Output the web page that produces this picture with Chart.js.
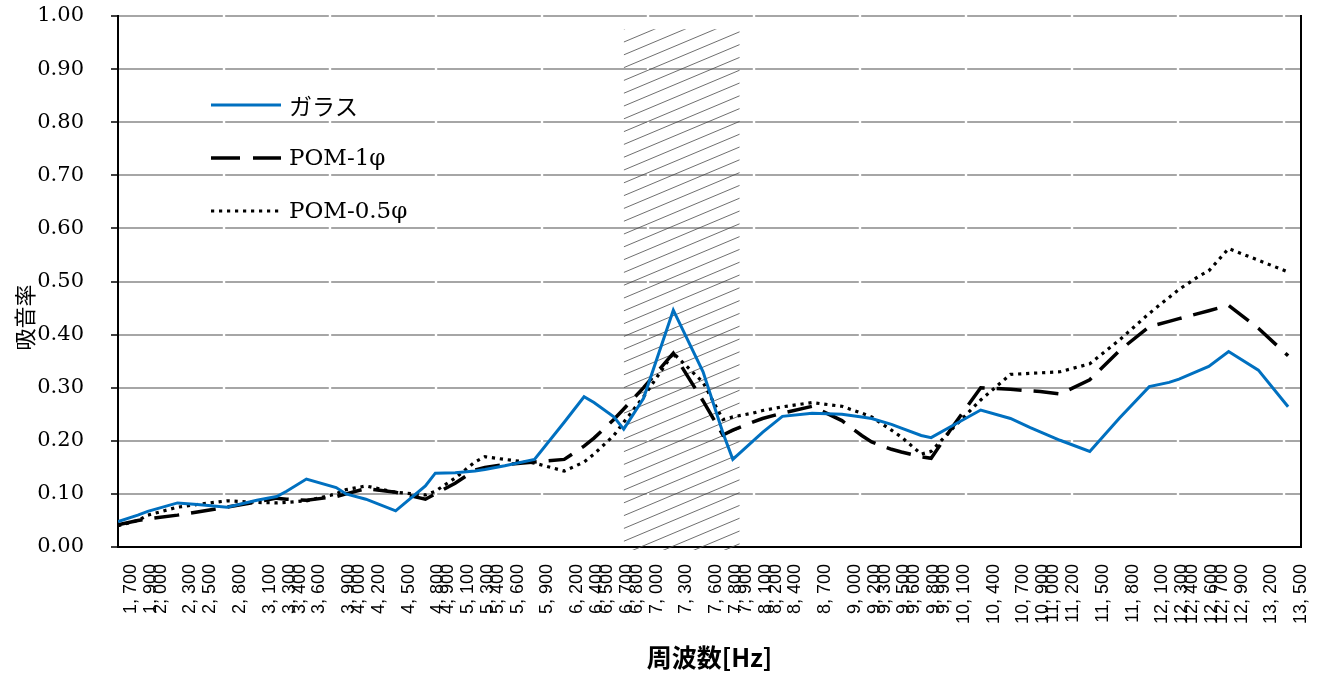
<!DOCTYPE html>
<html lang="ja">
<head>
<meta charset="utf-8">
<title>吸音率</title>
<script src="https://cdn.jsdelivr.net/npm/chart.js@4.4.1/dist/chart.umd.min.js"></script>
<style>
  html, body { margin: 0; padding: 0; background: #fff; }
  #chartCanvas { display: block; }
</style>
</head>
<body>
<canvas id="chartCanvas" width="1329" height="675"></canvas>
<script>
// 周波数 [Hz]
const freqs = [1700, 1900, 2000, 2300, 2500, 2800, 3100, 3300, 3400, 3600, 3900, 4000, 4200, 4500,
    4800, 4900, 5100, 5300, 5400, 5600, 5900, 6200, 6400, 6500, 6700, 6800, 7000, 7300, 7600,
    7800, 7900, 8100, 8200, 8400, 8700, 9000, 9200, 9300, 9500, 9600, 9800, 9900, 10100, 10400,
    10700, 10900, 11000, 11200, 11500, 11800, 12100, 12300, 12400, 12600, 12700, 12900, 13200, 13500];

// 吸音率
const glass = [0.048, 0.060, 0.067, 0.083, 0.080, 0.075, 0.088, 0.095, 0.105, 0.128, 0.112, 0.100, 0.090, 0.068,
    0.115, 0.139, 0.140, 0.143, 0.146, 0.153, 0.165, 0.235, 0.283, 0.272, 0.245, 0.222, 0.280, 0.446, 0.330,
    0.215, 0.165, 0.199, 0.216, 0.246, 0.252, 0.250, 0.245, 0.242, 0.231, 0.224, 0.210, 0.206, 0.227, 0.258,
    0.242, 0.225, 0.217, 0.201, 0.180, 0.243, 0.302, 0.310, 0.316, 0.332, 0.340, 0.368, 0.333, 0.264];
const pom1 = [0.042, 0.050, 0.053, 0.060, 0.066, 0.075, 0.085, 0.092, 0.090, 0.088, 0.095, 0.100, 0.110, 0.103,
    0.090, 0.100, 0.120, 0.145, 0.150, 0.155, 0.160, 0.165, 0.190, 0.205, 0.240, 0.260, 0.300, 0.365, 0.275,
    0.211, 0.220, 0.235, 0.242, 0.252, 0.265, 0.238, 0.210, 0.198, 0.184, 0.179, 0.170, 0.167, 0.222, 0.300,
    0.297, 0.294, 0.293, 0.288, 0.315, 0.370, 0.415, 0.425, 0.430, 0.440, 0.445, 0.455, 0.412, 0.360];
const pom05 = [0.040, 0.050, 0.060, 0.075, 0.080, 0.087, 0.084, 0.083, 0.084, 0.087, 0.100, 0.108, 0.115, 0.103,
    0.098, 0.105, 0.130, 0.160, 0.170, 0.165, 0.158, 0.143, 0.160, 0.175, 0.210, 0.235, 0.283, 0.365, 0.310,
    0.240, 0.245, 0.252, 0.257, 0.264, 0.272, 0.265, 0.252, 0.245, 0.220, 0.207, 0.175, 0.180, 0.220, 0.277,
    0.325, 0.327, 0.328, 0.330, 0.345, 0.390, 0.440, 0.470, 0.485, 0.510, 0.520, 0.562, 0.540, 0.518];

const seriesNames = ['ガラス', 'POM-1φ', 'POM-0.5φ'];

// 斜線で示す周波数帯 [Hz] と上端の吸音率
const hatchBand = [6800, 7970];
const hatchTop = 0.975;

const formatHz = (v) => `${Math.floor(v / 1000)}, ${String(v % 1000).padStart(3, '0')}`;
const toPoints = (values) => freqs.map((f, i) => ({ x: f, y: values[i] }));

// hatched frequency band, drawn behind the lines
const hatchPlugin = {
    id: 'hatchBand',
    beforeDatasetsDraw(chart) {
        const { ctx, scales: { x, y }, chartArea } = chart;
        const left = x.getPixelForValue(hatchBand[0]);
        const right = x.getPixelForValue(hatchBand[1]);
        const top = y.getPixelForValue(hatchTop);
        const bottom = chartArea.bottom + 3;
        const w = right - left;
        const rise = w * 0.42;
        ctx.save();
        ctx.beginPath();
        ctx.rect(left, top, w, bottom - top);
        ctx.clip();
        ctx.strokeStyle = '#4a4a4a';
        ctx.lineWidth = 0.8;
        for (let yy = top; yy <= bottom + rise; yy += 12.8) {
            ctx.beginPath();
            ctx.moveTo(left, yy);
            ctx.lineTo(right, yy - rise);
            ctx.stroke();
        }
        ctx.restore();
    }
};

// small breaks in the horizontal gridlines + right frame line
const gridBreaks = {
    id: 'gridBreaks',
    beforeDatasetsDraw(chart) {
        const { ctx, scales: { y }, chartArea } = chart;
        ctx.save();
        ctx.fillStyle = '#fff';
        y.ticks.forEach((t) => {
            if (t.value <= 0) return;
            const py = y.getPixelForValue(t.value);
            for (let px = chartArea.left + 106; px < chartArea.right - 4; px += 106) {
                ctx.fillRect(px - 1.2, py - 2, 2.4, 4);
            }
        });
        ctx.strokeStyle = '#000';
        ctx.lineWidth = 2;
        ctx.beginPath();
        ctx.moveTo(chartArea.right, chartArea.top - 1);
        ctx.lineTo(chartArea.right, chartArea.bottom + 1);
        ctx.stroke();
        ctx.restore();
    }
};

// legend inside the plot area, upper left
const legendPlugin = {
    id: 'innerLegend',
    afterDatasetsDraw(chart) {
        const { ctx, chartArea } = chart;
        const x0 = chartArea.left + 93;
        const x1 = x0 + 70;
        ctx.save();
        chart.data.datasets.forEach((ds, i) => {
            const yy = chartArea.top + 89 + i * 53;
            ctx.strokeStyle = ds.borderColor;
            ctx.lineWidth = ds.borderWidth;
            ctx.setLineDash(i === 1 ? [29, 13] : (ds.borderDash || []));
            ctx.beginPath();
            ctx.moveTo(x0, yy);
            ctx.lineTo(x1, yy);
            ctx.stroke();
            ctx.setLineDash([]);
            ctx.fillStyle = '#000';
            ctx.textBaseline = 'middle';
            ctx.textAlign = 'left';
            ctx.font = i === 0 ? '23px "Noto Sans CJK JP"' : '23px "DejaVu Serif"';
            ctx.fillText(ds.label, x1 + 8, yy + 1);
        });
        ctx.restore();
    }
};

// axis titles
const axisTitles = {
    id: 'axisTitles',
    afterDraw(chart) {
        const { ctx, chartArea } = chart;
        ctx.save();
        ctx.fillStyle = '#000';
        ctx.textAlign = 'center';
        ctx.textBaseline = 'middle';
        ctx.font = 'bold 25px "Noto Sans CJK JP"';
        ctx.fillText('周波数[Hz]', (chartArea.left + chartArea.right) / 2, 657);
        ctx.translate(25, (chartArea.top + chartArea.bottom) / 2 + 36);
        ctx.rotate(-Math.PI / 2);
        ctx.font = '22px "Noto Sans CJK JP"';
        ctx.fillText('吸音率', 0, 0);
        ctx.restore();
    }
};

const ctx = document.getElementById('chartCanvas').getContext('2d');
new Chart(ctx, {
    type: 'line',
    data: {
        datasets: [
            { label: seriesNames[0], data: toPoints(glass), borderColor: '#0070C0', borderWidth: 3 },
            { label: seriesNames[1], data: toPoints(pom1), borderColor: '#000', borderWidth: 3.5, borderDash: [25, 12] },
            { label: seriesNames[2], data: toPoints(pom05), borderColor: '#000', borderWidth: 3.2, borderDash: [3.2, 4.8] }
        ]
    },
    options: {
        responsive: false,
        animation: false,
        devicePixelRatio: 1,
        elements: { point: { radius: 0 }, line: { tension: 0, fill: false } },
        layout: { padding: { top: 16, right: 28, left: 0, bottom: 0 } },
        plugins: { legend: { display: false }, tooltip: { enabled: false } },
        scales: {
            x: {
                type: 'linear',
                min: 1700,
                max: 13630,
                afterBuildTicks: (scale) => { scale.ticks = freqs.map((v) => ({ value: v })); },
                afterFit: (scale) => {
                    scale.height = 128;
                    scale.paddingLeft = 0;
                    scale.paddingRight = 0;
                },
                grid: { display: false },
                border: { display: true, color: '#000', width: 2 },
                ticks: {
                    autoSkip: false,
                    minRotation: 90,
                    maxRotation: 90,
                    padding: 9,
                    labelOffset: 13,
                    color: '#000',
                    font: { family: 'Liberation Sans', size: 18 },
                    callback: (v) => formatHz(v)
                }
            },
            y: {
                min: 0,
                max: 1,
                afterFit: (scale) => {
                    scale.width = 118;
                    scale.paddingTop = 0;
                    scale.paddingBottom = 0;
                },
                grid: { color: '#a6a6a6', lineWidth: 2, tickColor: '#000', tickLength: 7, tickWidth: 1.5 },
                border: { color: '#000', width: 2 },
                ticks: {
                    stepSize: 0.1,
                    padding: 27,
                    color: '#000',
                    font: { family: 'DejaVu Serif', size: 21 },
                    callback: (v) => v.toFixed(2)
                }
            }
        }
    },
    plugins: [gridBreaks, hatchPlugin, legendPlugin, axisTitles]
});
</script>
</body>
</html>
